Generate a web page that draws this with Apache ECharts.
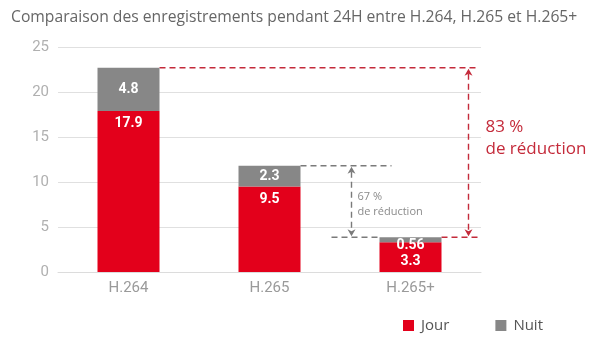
<!DOCTYPE html>
<html>
<head>
<meta charset="utf-8">
<script src="https://cdn.jsdelivr.net/npm/echarts@6/dist/echarts.min.js"></script>
<style>html,body{margin:0;padding:0;background:#fff}#c{width:600px;height:343px}</style>
</head>
<body>
<div id="c"></div>
<script>
var titleText = 'Comparaison des enregistrements pendant 24H entre H.264, H.265 et H.265+';
var categories = ['H.264', 'H.265', 'H.265+'];
var jour = [17.9, 9.5, 3.3];
var nuit = [4.8, 2.3, 0.56];
var seriesNames = ['Jour', 'Nuit'];
var yMax = 25, yInterval = 5;
var redNote = ['83 %', 'de réduction'];
var greyNote = ['67 %', 'de réduction'];

var RED = '#e3001b', GREY = '#878787', DRED = '#c42a3a', DGREY = '#7a7a7a';
var chart = echarts.init(document.getElementById('c'), null, {renderer: 'canvas'});
var barW = 62;
var jourData = jour.map(function (v, i) {
  return i === 2 ? {value: v, label: {position: 'insideBottom', distance: 4}} : v;
});
var nuitData = nuit.map(function (v, i) {
  return i === 2 ? {value: v, label: {offset: [0, 6]}} : v;
});
var option = {
  animation: false,
  title: {text: titleText, left: 6, top: 5,
    textStyle: {fontFamily: 'Open Sans', fontSize: 15.7, fontWeight: 'normal', color: '#666'}},
  grid: {left: 58, right: 119, top: 47, bottom: 71},
  legend: {data: seriesNames, left: 398, top: 313, itemWidth: 11, itemHeight: 11, itemGap: 46, icon: 'rect',
    textStyle: {fontFamily: 'Open Sans', fontSize: 15, color: '#555', padding: [0, 0, 0, 2]}},
  xAxis: {type: 'category', data: categories,
    axisLine: {lineStyle: {color: '#dcdcdc'}}, axisTick: {show: false},
    axisLabel: {fontFamily: 'Roboto', fontSize: 15, color: '#9a9a9a', margin: 9}},
  yAxis: {type: 'value', min: 0, max: yMax, interval: yInterval,
    axisLine: {show: false}, axisTick: {show: false},
    splitLine: {lineStyle: {color: '#e0e0e0', width: 1}},
    axisLabel: {fontFamily: 'Roboto', fontSize: 15, color: '#b0b0b0', margin: 9}},
  series: [
    {name: seriesNames[0], type: 'bar', stack: 't', data: jourData, barWidth: barW,
      itemStyle: {color: RED},
      label: {show: true, position: 'insideTop', distance: 6, color: '#fff',
        fontFamily: 'Roboto', fontWeight: 'bold', fontSize: 14}},
    {name: seriesNames[1], type: 'bar', stack: 't', data: nuitData, barWidth: barW,
      itemStyle: {color: GREY},
      label: {show: true, position: 'inside', color: '#fff',
        fontFamily: 'Roboto', fontWeight: 'bold', fontSize: 14}}
  ]
};
chart.setOption(option);

var totals = jour.map(function (v, i) { return v + nuit[i]; });
var P = totals.map(function (t, i) { return chart.convertToPixel({gridIndex: 0}, [i, t]); });
var hb = barW / 2;
function hline(x1, x2, y, c) {
  return {type: 'line', shape: {x1: x1, y1: y, x2: x2, y2: y},
    style: {stroke: c, lineWidth: 1.4, lineDash: [6, 4]}, silent: true};
}
function arrow(x, yTop, yBot, c) {
  return [
    {type: 'line', shape: {x1: x, y1: yTop + 6, x2: x, y2: yBot - 6},
      style: {stroke: c, lineWidth: 1.4, lineDash: [6, 4]}, silent: true},
    {type: 'polygon', shape: {points: [[x, yTop + 1], [x - 4, yTop + 8], [x, yTop + 6], [x + 4, yTop + 8]]},
      style: {fill: c}, silent: true},
    {type: 'polygon', shape: {points: [[x, yBot - 1], [x - 4, yBot - 8], [x, yBot - 6], [x + 4, yBot - 8]]},
      style: {fill: c}, silent: true}
  ];
}
function txt(x, y, s, size, c) {
  return {type: 'text', x: x, y: y, silent: true,
    style: {text: s, fontFamily: 'Open Sans', fontSize: size, fill: c, textVerticalAlign: 'middle', verticalAlign: 'middle'}};
}
var x0 = P[0][0], x1 = P[1][0], x2 = P[2][0];
var y0 = P[0][1], y1 = P[1][1], y2 = P[2][1];
var els = [];
els.push(hline(x0 + hb, x2 + 67, y0, DRED));
els.push(hline(x2 + hb, x2 + 71, y2, DRED));
els.push(hline(x1 + hb, x1 + 122, y1, DGREY));
els.push(hline(x1 + 62, x2 - hb, y2, DGREY));
els = els.concat(arrow(x1 + 82, y1, y2, DGREY));
els = els.concat(arrow(x2 + 58, y0, y2, DRED));
var gm = (y1 + y2) / 2;
els.push(txt(x1 + 88, gm - 5, greyNote[0], 11, '#8a8a8a'));
els.push(txt(x1 + 88, gm + 10, greyNote[1], 11, '#8a8a8a'));
var rm = (y0 + y2) / 2;
els.push(txt(x2 + 75, rm - 25, redNote[0], 17, DRED));
els.push(txt(x2 + 75, rm - 3, redNote[1], 17, DRED));
chart.setOption({graphic: {elements: els}});
</script>
</body>
</html>
